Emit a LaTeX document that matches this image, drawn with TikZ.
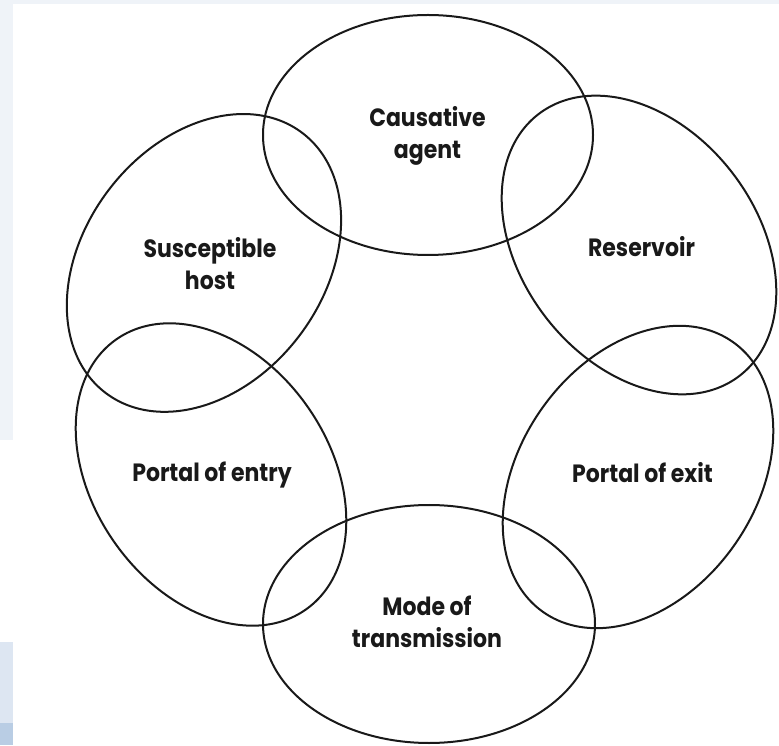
\documentclass[tikz,border=0pt]{standalone}
\usepackage{fontspec}
\setmainfont{Poppins}[FakeStretch=0.88]
\definecolor{edgetint}{RGB}{239,243,248}
\definecolor{lowtint}{RGB}{221,230,242}
\definecolor{deeptint}{RGB}{185,205,228}
\definecolor{inkline}{RGB}{25,25,25}
\begin{document}
\begin{tikzpicture}[x=1pt,y=1pt,
  ringline/.style={draw=inkline, line width=2pt},
  ringtext/.style={font=\fontsize{25}{32}\selectfont\bfseries, align=center,
    inner sep=0pt, text=inkline}]
\useasboundingbox (0,0) rectangle (779,745);
% page background and tinted margins
\fill[white] (0,0) rectangle (779,745);
\fill[edgetint] (0,741) rectangle (779,745);
\fill[edgetint] (0,305) rectangle (13,745);
\fill[lowtint] (0,22) rectangle (13,103);
\fill[deeptint] (0,0) rectangle (13,22);

% the six links of the chain
\coordinate (cAgent) at (428,610);
\coordinate (cRes)   at (639,500);
\coordinate (cExit)  at (638,268);
\coordinate (cMode)  at (429,121);
\coordinate (cEntry) at (211,270.5);
\coordinate (cHost)  at (204,482);

\draw[ringline] (cAgent) ellipse [x radius=165, y radius=120];
\draw[ringline, rotate around={-52.5:(cRes)}] (cRes) ellipse [x radius=165, y radius=118];
\draw[ringline, rotate around={55:(cExit)}] (cExit) ellipse [x radius=165, y radius=118];
\draw[ringline] (cMode) ellipse [x radius=166, y radius=119];
\draw[ringline, rotate around={-55:(cEntry)}] (cEntry) ellipse [x radius=165, y radius=118];
\draw[ringline, rotate around={53:(cHost)}] (cHost) ellipse [x radius=163, y radius=120];

% labels
\node[ringtext] (agent) at (427.5,608.6) {Causative\\agent};
\node[ringtext, anchor=base] (reservoir) at (641.5,488) {Reservoir};
\node[ringtext, anchor=base] (exit) at (642.5,262) {Portal of exit};
\node[ringtext] (mode) at (427,123.5) {Mode of\\transmission};
\node[ringtext, anchor=base] (entry) at (212,263) {Portal of entry};
\node[ringtext] (host) at (210,481.5) {Susceptible\\host};
\end{tikzpicture}
\end{document}
